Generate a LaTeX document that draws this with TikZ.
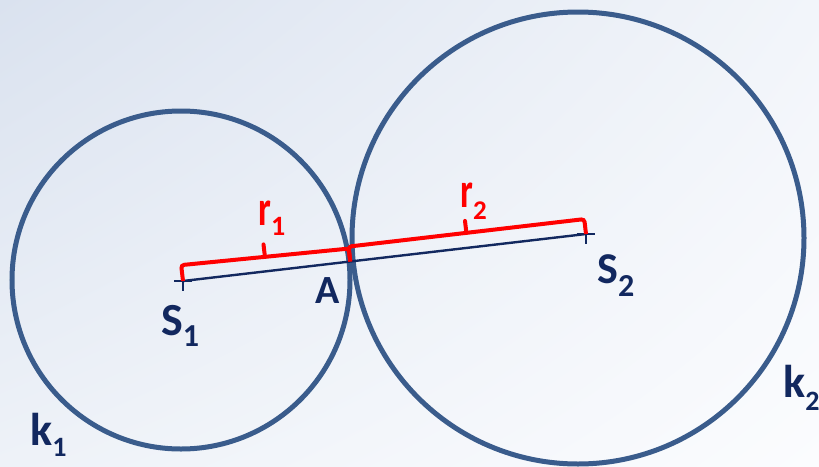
\documentclass[tikz,border=0pt]{standalone}
\usepackage{fontspec}
\setmainfont{Carlito}
\usepackage{graphicx}
\usetikzlibrary{calc,shadings}
\definecolor{circc}{RGB}{58,92,140}
\definecolor{navyc}{RGB}{18,40,95}
\definecolor{redc}{RGB}{255,0,0}
\definecolor{bgA}{RGB}{218,226,239}
\definecolor{bgB}{RGB}{242,245,250}
\definecolor{bgC}{RGB}{238,242,248}
\definecolor{bgD}{RGB}{251,252,254}
\newcommand\mylbl[5]{{\fontsize{#1}{#1}\selectfont #2}\raisebox{-#4pt}{\fontsize{#3}{#3}\selectfont #5}}
\begin{document}
\begin{tikzpicture}[x=1pt,y=-1pt,
  circline/.style={draw=circc, line width=5pt},
  axisline/.style={draw=navyc, line width=2.4pt},
  crossline/.style={draw=navyc, line width=2.8pt},
  redbr/.style={draw=redc, line width=4pt, rounded corners=3pt},
  rednotch/.style={draw=redc, line width=4pt, line cap=round},
  lbl/.style={anchor=base west, inner sep=0pt, font=\bfseries, text=navyc},
  rlbl/.style={lbl, text=redc}]
\useasboundingbox (0,0) rectangle (819,466);
\shade[upper left=bgA, upper right=bgB, lower left=bgC, lower right=bgD] (0,0) rectangle (819,466);
% centres
\coordinate (C1) at (181,280);
\coordinate (C2) at (578,238);
\coordinate (S1) at (183,281);
\coordinate (S2) at (586,234);
\coordinate (A) at ($(S1)!0.415!(S2)$);
\coordinate (M1) at ($(S1)!0.5!(A)$);
\coordinate (M2) at ($(A)!0.5!(S2)$);
% circles
\draw[circline] (C1) circle[radius=169pt];
\draw[circline] (C2) circle[radius=226pt];
% line S1 S2
\draw[axisline] (S1) -- (S2);
\draw[crossline] ($(S1)+(-9,0)$) -- ($(S1)+(9,0)$) ($(S1)+(0,-9)$) -- ($(S1)+(0,10)$);
\draw[crossline] ($(S2)+(-9,0)$) -- ($(S2)+(9,0)$) ($(S2)+(0,-9)$) -- ($(S2)+(0,10)$);
% red brackets
\draw[redbr] (S1) -- ($(S1)!16pt!90:(A)$) -- ($(A)!13pt!-90:(S1)$) -- (A);
\draw[rednotch] ($(M1)!14.5pt!90:(A)$) -- ($(M1)!27pt!90:(A)$);
\draw[redbr] (A) -- ($(A)!15pt!90:(S2)$) -- ($(S2)!15pt!-90:(A)$) -- (S2);
\draw[rednotch] ($(M2)!15pt!90:(S2)$) -- ($(M2)!27pt!90:(S2)$);
% labels
\node[rlbl] (r1) at (258,225) {\mylbl{36}{\scalebox{1}[1.38]{r}}{28}{10}{1}};
\node[rlbl] (r2) at (460,207) {\mylbl{36}{\scalebox{1}[1.38]{r}}{27}{12}{2}};
\node[lbl] (s1l) at (161,335) {\mylbl{46}{S}{32}{11}{1}};
\node[lbl] (s2l) at (597,283) {\mylbl{44}{S}{32}{13}{2}};
\node[lbl] (al) at (315,303) {\fontsize{40}{40}\selectfont A};
\node[lbl] (k1l) at (30,445) {\mylbl{46}{k}{28}{11}{1}};
\node[lbl] (k2l) at (783,397) {\mylbl{46}{k}{28}{13}{2}};
\end{tikzpicture}
\end{document}
